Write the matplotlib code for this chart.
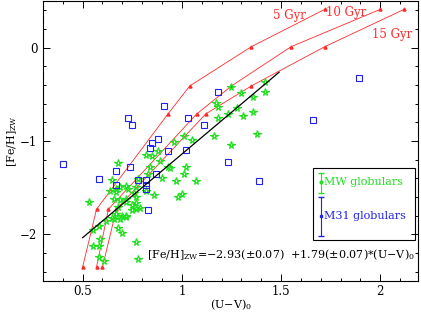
import matplotlib
matplotlib.use("Agg")
import matplotlib.pyplot as plt
from matplotlib.patches import Rectangle
from matplotlib.ticker import MultipleLocator

plt.rcParams['font.family'] = ['DejaVu Serif']
plt.rcParams['mathtext.fontset'] = 'dejavuserif'

# Milky Way globulars (U-V)0, [Fe/H]
mw_uv = [0.68, 0.53, 0.65, 0.64, 0.67, 0.69, 0.72, 0.73, 0.67, 0.66, 0.69, 0.72,
         0.76, 0.77, 0.77, 0.78, 0.75, 0.77, 0.77, 0.79, 0.75, 0.72, 0.68, 0.67,
         0.66, 0.69, 0.62, 0.72, 0.70, 0.68, 0.70, 0.55, 0.58, 0.59, 0.55, 0.58,
         0.58, 0.61, 0.77, 0.78, 0.82, 0.85, 0.88, 0.89, 0.84, 0.93, 0.94, 1.02,
         1.01, 0.83, 0.90, 0.97, 1.07, 0.82, 0.86, 0.98, 1.00, 0.96, 1.01, 1.05,
         1.16, 1.25, 1.25, 1.17, 1.18, 1.30, 1.36, 1.42, 1.42, 1.28, 1.23, 1.18,
         1.31, 1.36, 1.38, 0.65, 0.72]
mw_feh = [-1.23, -1.65, -1.42, -1.54, -1.51, -1.49, -1.48, -1.51, -1.55, -1.62, -1.63, -1.65,
          -1.56, -1.60, -1.49, -1.41, -1.68, -1.66, -1.73, -1.72, -1.74, -1.81, -1.71, -1.78,
          -1.83, -1.84, -1.86, -1.80, -1.80, -1.93, -1.99, -1.95, -1.91, -2.05, -2.12, -2.12,
          -2.24, -2.29, -2.08, -2.26, -1.15, -1.16, -1.11, -1.21, -1.28, -1.28, -1.29, -1.28,
          -1.35, -1.35, -1.40, -1.43, -1.43, -1.54, -1.58, -1.60, -1.57, -1.01, -0.95, -0.99,
          -0.95, -1.04, -0.42, -0.59, -0.64, -0.49, -0.53, -0.37, -0.47, -0.65, -0.71, -0.75,
          -0.73, -0.69, -0.93, -1.82, -1.62]

# M31 globulars
m31_uv = [0.40, 0.73, 0.75, 0.91, 1.03, 1.11, 0.85, 0.88, 0.84, 0.93, 1.02, 1.18, 1.89,
          1.66, 1.23, 1.39, 0.58, 0.67, 0.74, 0.67, 0.78, 0.82, 0.82, 0.82, 0.87, 0.83]
m31_feh = [-1.25, -0.75, -0.83, -0.63, -0.75, -0.83, -1.02, -0.98, -1.08, -1.11, -1.10, -0.47, -0.33,
           -0.77, -1.22, -1.43, -1.41, -1.32, -1.28, -1.47, -1.42, -1.42, -1.47, -1.51, -1.35, -1.74]

# model tracks
model_feh = [-2.35, -1.73, -0.71, -0.41, 0.01, 0.41]
uv_5gyr = [0.50, 0.57, 0.93, 1.04, 1.35, 1.72]
uv_10gyr = [0.57, 0.63, 1.075, 1.25, 1.55, 2.00]
uv_15gyr = [0.60, 0.67, 1.12, 1.35, 1.72, 2.12]
ages = ['5 Gyr', '10 Gyr', '15 Gyr']
age_label_pos = [(1.54, 0.34), (1.83, 0.38), (2.06, 0.14)]

# linear fit
fit_a, fit_b = -2.93, 1.79
fit_range = [0.5, 1.49]

red = '#ff2a2a'
green = '#22e022'
blue = '#2222ee'

fig = plt.figure(figsize=(4.21, 3.12), dpi=100)
ax = fig.add_axes([0.102, 0.099, 0.891, 0.898])

for uv, lab, pos in zip([uv_5gyr, uv_10gyr, uv_15gyr], ages, age_label_pos):
    ax.plot(uv, model_feh, color=red, lw=0.6, marker='^', ms=2.2, mec=red, mfc=red)
    ax.text(pos[0], pos[1], lab, color=red, fontsize=8.5, ha='center', va='center')

ax.plot(mw_uv, mw_feh, ls='none', marker='*', ms=5.5, mfc='none', mec=green, mew=0.9)
ax.plot(m31_uv, m31_feh, ls='none', marker='s', ms=4, mfc='none', mec=blue, mew=0.8)

ax.plot(fit_range, [fit_a + fit_b * v for v in fit_range], color='black', lw=0.9)

ax.text(0.277, 0.095,
        r'[Fe/H]$_{\rm ZW}$=$-$2.93($\pm$0.07)  +1.79($\pm$0.07)*(U$-$V)$_{\rm 0}$',
        transform=ax.transAxes, fontsize=8, va='center', ha='left')

# legend box
ax.add_patch(Rectangle((0.72, 0.146), 0.272, 0.256, transform=ax.transAxes,
                       fill=False, ec='black', lw=0.8))
ax.errorbar([0.741], [0.352], yerr=[[0.038], [0.033]], transform=ax.transAxes,
            color=green, marker='o', ms=2, capsize=2.5, lw=0.8)
ax.text(0.75, 0.352, 'MW globulars', color=green, fontsize=8,
        transform=ax.transAxes, va='center')
ax.errorbar([0.741], [0.232], yerr=[[0.07], [0.068]], transform=ax.transAxes,
            color=blue, marker='s', ms=2, mfc='none', capsize=2.5, lw=0.8)
ax.text(0.75, 0.232, 'M31 globulars', color=blue, fontsize=8,
        transform=ax.transAxes, va='center')

ax.set_xlim(0.3, 2.19)
ax.set_ylim(-2.5, 0.5)
ax.xaxis.set_minor_locator(MultipleLocator(0.1))
ax.yaxis.set_minor_locator(MultipleLocator(0.2))
ax.set_xticks([0.5, 1, 1.5, 2])
ax.set_xticklabels(['0.5', '1', '1.5', '2'])
ax.set_yticks([-2, -1, 0])
ax.set_yticklabels(['\u22122', '\u22121', '0'])
ax.tick_params(which='both', direction='in', top=True, right=True, labelsize=8.5, width=0.7)
ax.tick_params(which='major', length=5, pad=3)
ax.tick_params(which='minor', length=2.5)
ax.tick_params(axis='y', which='major', pad=4)
for s in ax.spines.values():
    s.set_linewidth(0.8)

ax.set_xlabel(r'(U$-$V)$_{\rm 0}$', fontsize=8, labelpad=-0.5)
ax.set_ylabel(r'[Fe/H]$_{\rm ZW}$', fontsize=8, labelpad=1)

fig.savefig('out.png', dpi=100)
